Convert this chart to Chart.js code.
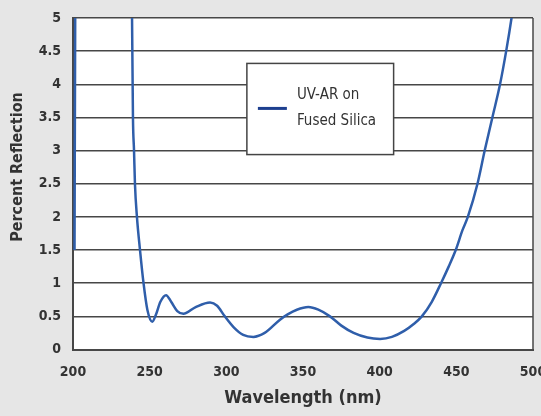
<!DOCTYPE html>
<html>
<head>
<meta charset="utf-8">
<script src="https://cdn.jsdelivr.net/npm/chart.js@4.4.1/dist/chart.umd.min.js"></script>
<style>
  html, body { margin: 0; padding: 0; background: #e6e6e6; }
  #wrap { width: 541px; height: 416px; position: relative; }
</style>
</head>
<body>
<div id="wrap"><canvas id="reflChart"></canvas></div>
<script>
// wavelength (nm) and percent reflection
const wavelengths = [201, 201.5, 202.5, 236, 238.5, 239.1, 239.8, 240.4, 241.7, 243.7, 246, 248.5,
  251.7, 254, 257, 260.7, 264, 268, 272, 280, 289.4, 294, 299, 305, 311, 317.6, 325, 335, 340,
  346, 353.5, 360, 367.6, 375, 383, 392, 400.3, 408, 416, 422, 427.5, 434, 440, 445, 449.6,
  454, 457.5, 463.8, 468.5, 473.5, 478.5, 482.5, 486, 489];
const reflection = [1.5, 5.5, 8, 8, 5.0, 3.5, 3.0, 2.5, 2.0, 1.5, 1.0, 0.6,
  0.42, 0.52, 0.72, 0.82, 0.72, 0.58, 0.54, 0.64, 0.71, 0.66, 0.5, 0.33, 0.22, 0.19, 0.25, 0.45, 0.53,
  0.6, 0.64, 0.6, 0.5, 0.36, 0.25, 0.18, 0.16, 0.19, 0.28, 0.38, 0.5, 0.72, 1.0, 1.25, 1.5,
  1.8, 2.0, 2.5, 3.0, 3.5, 4.0, 4.5, 5.0, 5.5];
const xTicks = [200, 250, 300, 350, 400, 450, 500];
const yTicks = [0, 0.5, 1, 1.5, 2, 2.5, 3, 3.5, 4, 4.5, 5];
const seriesLabel = ['UV-AR on', 'Fused Silica'];

const FONT = '"Liberation Sans Narrow", "DejaVu Sans Condensed", "Roboto", sans-serif';
const LINE_BLUE = '#2f5eaa';
const GRID = '#474747';

const points = wavelengths.map((w, i) => ({x: w, y: reflection[i]}));

// white plot area, right border, boxed legend and rotated y title
const decorPlugin = {
  id: 'decor',
  beforeDraw(chart) {
    const {ctx, chartArea: a} = chart;
    ctx.save();
    ctx.fillStyle = '#ffffff';
    ctx.fillRect(a.left, a.top, a.width, a.height);
    ctx.restore();
  },
  afterDraw(chart) {
    const {ctx, chartArea: a} = chart;
    ctx.save();
    ctx.strokeStyle = GRID;
    ctx.lineWidth = 1.5;
    ctx.beginPath();
    ctx.moveTo(a.right, a.top);
    ctx.lineTo(a.right, a.bottom);
    ctx.stroke();

    // legend box
    const bx = a.left + a.width * 0.378, by = a.top + a.height * 0.137;
    const bw = a.width * 0.319, bh = a.height * 0.275;
    ctx.fillStyle = '#ffffff';
    ctx.fillRect(bx, by, bw, bh);
    ctx.strokeStyle = '#444444';
    ctx.lineWidth = 1.5;
    ctx.strokeRect(bx, by, bw, bh);
    ctx.strokeStyle = '#1d3f8f';
    ctx.lineWidth = 3;
    ctx.beginPath();
    ctx.moveTo(bx + 11, by + 45);
    ctx.lineTo(bx + 40, by + 45);
    ctx.stroke();
    ctx.fillStyle = '#333333';
    ctx.font = '15px ' + FONT;
    ctx.textBaseline = 'middle';
    ctx.textAlign = 'left';
    ctx.fillText(seriesLabel[0], bx + 50, by + 32);
    ctx.fillText(seriesLabel[1], bx + 50, by + 58);

    // y title
    ctx.translate(18, 167);
    ctx.rotate(-Math.PI / 2);
    ctx.textAlign = 'center';
    ctx.font = 'bold 16px ' + FONT;
    ctx.fillText('Percent Reflection', 0, 0);
    ctx.restore();
  }
};

new Chart(document.getElementById('reflChart'), {
  type: 'scatter',
  data: {
    datasets: [{
      label: seriesLabel.join(' '),
      data: points,
      showLine: true,
      borderColor: LINE_BLUE,
      borderWidth: 2.5,
      pointRadius: 0,
      cubicInterpolationMode: 'monotone'
    }]
  },
  options: {
    responsive: true,
    maintainAspectRatio: false,
    animation: false,
    layout: { padding: { top: 18, right: 8, left: 0, bottom: 0 } },
    plugins: {
      legend: { display: false },
      tooltip: { enabled: false }
    },
    scales: {
      x: {
        type: 'linear',
        min: 200,
        max: 500,
        afterBuildTicks: s => { s.ticks = xTicks.map(v => ({value: v})); },
        afterFit: s => { s.height = 66.5; s.paddingLeft = 0; s.paddingRight = 0; },
        grid: { display: false },
        border: { display: true, color: GRID, width: 2 },
        ticks: {
          color: '#333333',
          padding: 6,
          maxRotation: 0,
          font: { family: FONT, size: 14, weight: 'bold' }
        },
        title: {
          display: true,
          text: 'Wavelength (nm)',
          color: '#333333',
          font: { family: FONT, size: 18, weight: 'bold' },
          padding: { top: 0, bottom: 7 }
        }
      },
      y: {
        min: 0,
        max: 5,
        afterBuildTicks: s => { s.ticks = yTicks.map(v => ({value: v})); },
        afterFit: s => { s.width = 73; s.paddingTop = 0; s.paddingBottom = 0; },
        grid: { color: GRID, lineWidth: 1.5, drawTicks: false },
        border: { display: true, color: GRID, width: 2 },
        ticks: {
          color: '#333333',
          padding: 12,
          font: { family: FONT, size: 14, weight: 'bold' },
          callback: v => String(v)
        }
      }
    }
  },
  plugins: [decorPlugin]
});
</script>
</body>
</html>
